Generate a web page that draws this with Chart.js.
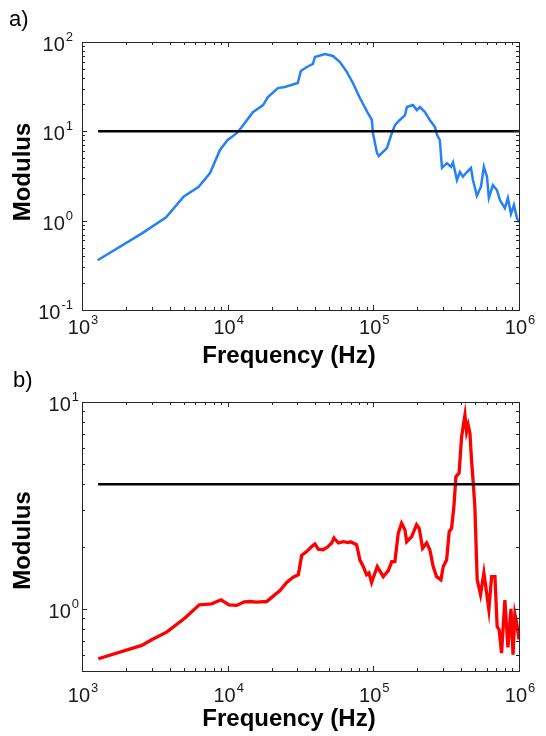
<!DOCTYPE html>
<html>
<head>
<meta charset="utf-8">
<script src="https://cdn.jsdelivr.net/npm/chart.js@4.4.1/dist/chart.umd.min.js"></script>
<style>
  body { margin: 0; background: #fff; }
  .panel { position: absolute; left: 0; }
</style>
</head>
<body>
<canvas id="chartA" class="panel" width="546" height="368" style="top:0"></canvas>
<canvas id="chartB" class="panel" width="546" height="368" style="top:368px"></canvas>
<script>
// panel a) - blue curve
const freqA = [1280, 2580, 3780, 5000, 6300, 7570, 8850, 10000, 11600, 12500, 14900, 17500, 18900,
  22100, 24700, 30300, 31800, 35000, 38500, 39700, 46600, 52800, 59000, 65900, 72400, 80900,
  91800, 97700, 99300, 106000, 109000, 124000, 134000, 141000, 152000, 165000, 170000, 187000,
  199000, 209000, 226000, 244000, 265000, 274000, 286000, 296000, 320000, 341000, 352000,
  375000, 393000, 412000, 439000, 468000, 483000, 514000, 548000, 574000, 603000, 621000,
  662000, 705000, 740000, 800000, 839000, 881000, 923000, 968000, 1000000];
const modA = [0.36, 0.72, 1.09, 1.87, 2.38, 3.41, 6.18, 8.0, 9.6, 11.2, 16.4, 19.7, 24.2,
  30.5, 31.3, 34.8, 47.3, 52.5, 56.8, 68, 73.5, 69.7, 59.7, 46.1, 34.8, 23.6,
  16.0, 13.4, 9.6, 5.7, 5.3, 6.5, 9.6, 11.8, 13.4, 15.2, 18.7, 19.7,
  17.3, 18.7, 16.4, 13.4, 11.2, 9.1, 8.0, 3.9, 4.4, 4.0, 4.5,
  2.85, 3.5, 3.1, 3.5, 3.9, 2.85, 1.9, 2.4, 4.0, 3.1, 1.8,
  2.5, 2.2, 1.7, 1.38, 1.79, 1.19, 1.5, 1.07, 0.96];

// panel b) - red curve
const freqB = [1294, 2570, 3006, 3811, 5093, 6383, 7762, 8995, 10210, 11530, 13000, 14220, 15810,
  18530, 20050, 22860, 25410, 28180, 30550, 32210, 34830, 37760, 39720, 41880, 45290, 48980,
  51760, 53700, 57540, 62090, 67300, 69820, 76740, 80910, 85310, 89950, 93330, 97270, 106400,
  117000, 126800, 133700, 140600, 148300, 156300, 164800, 169400, 183200, 198200, 206500,
  217800, 232300, 244300, 257600, 271600, 291100, 302000, 318400, 331900, 344400, 357300,
  369000, 388100, 403600, 425600, 436500, 447700, 460300, 472100, 485300, 497700, 516400,
  544500, 574100, 599800, 620900, 648600, 683900, 707900, 731100, 758600, 799800, 839500,
  881000, 909800, 937600, 968300, 1000000];
const modB = [0.573, 0.665, 0.708, 0.771, 0.902, 1.045, 1.057, 1.105, 1.045, 1.038, 1.081, 1.084, 1.077,
  1.084, 1.135, 1.225, 1.34, 1.42, 1.46, 1.81, 1.89, 2.0, 2.06, 1.94, 1.93, 2.0,
  2.08, 2.2, 2.08, 2.11, 2.09, 2.11, 2.04, 1.72, 1.6, 1.46, 1.49, 1.34, 1.6,
  1.43, 1.53, 1.69, 1.69, 2.32, 2.59, 2.41, 2.11, 2.23, 2.55, 2.45,
  1.96, 2.08, 1.93, 1.6, 1.43, 1.38, 1.6, 1.72, 2.36, 2.45, 3.12,
  4.36, 4.53, 6.8, 8.65, 7.19, 7.74, 7.06, 5.25, 4.05, 3.12, 1.38,
  1.17, 1.49, 1.19, 0.99, 1.43, 1.43, 0.82, 0.79, 0.61, 1.1, 0.65,
  1.0, 0.6, 0.94, 0.84, 0.71];

// horizontal reference lines
const refFreq = [1290, 1000000];
const refA = [10, 10];
const refB = [4, 4];

// tick labels (powers of ten)
const xTickExps = [3, 4, 5, 6];
const yTickExpsA = [-1, 0, 1, 2];
const yTickExpsB = [0, 1];

const toPts = (xs, ys) => xs.map((x, i) => ({ x, y: ys[i] }));

const axisColor = '#262626';
const tickFont = '20px "Liberation Sans", Arial, sans-serif';
const supFont = '13px "Liberation Sans", Arial, sans-serif';
const titleFont = 'bold 24px "Liberation Sans", Arial, sans-serif';

function minorTicks(lo, hi) {
  const out = [];
  for (let e = -2; e <= 6; e++) {
    for (let k = 1; k <= 9; k++) {
      const v = k * Math.pow(10, e);
      if (v >= lo * 0.999 && v <= hi * 1.001) out.push({ v, major: k === 1 });
    }
  }
  return out;
}

function powLabel(ctx, exp, x, y, align) {
  ctx.font = tickFont;
  const wb = ctx.measureText('10').width;
  ctx.font = supFont;
  const ws = ctx.measureText(String(exp)).width;
  const left = align === 'center' ? x - (wb + ws + 1) / 2 : x - (wb + ws + 1);
  ctx.textAlign = 'left';
  ctx.textBaseline = 'alphabetic';
  ctx.font = tickFont;
  ctx.fillText('10', left, y);
  ctx.font = supFont;
  ctx.fillText(String(exp), left + wb + 1, y - 10);
}

const framePlugin = {
  id: 'frame',
  afterDraw(chart, args, o) {
    const { ctx, chartArea: a, scales: { x, y } } = chart;
    ctx.save();
    ctx.strokeStyle = axisColor;
    ctx.lineWidth = 1;
    ctx.strokeRect(Math.round(a.left) + 0.5, Math.round(a.top) + 0.5,
      Math.round(a.right - a.left), Math.round(a.bottom - a.top));

    ctx.beginPath();
    minorTicks(x.min, x.max).forEach(t => {
      const px = Math.round(x.getPixelForValue(t.v)) + 0.5;
      const len = t.major ? 5 : 3;
      ctx.moveTo(px, a.bottom); ctx.lineTo(px, a.bottom - len);
      ctx.moveTo(px, a.top); ctx.lineTo(px, a.top + len);
    });
    minorTicks(y.min, y.max).forEach(t => {
      const py = Math.round(y.getPixelForValue(t.v)) + 0.5;
      const len = t.major ? 5 : 3;
      ctx.moveTo(a.left, py); ctx.lineTo(a.left + len, py);
      ctx.moveTo(a.right, py); ctx.lineTo(a.right - len, py);
    });
    ctx.stroke();

    ctx.fillStyle = '#1a1a1a';
    xTickExps.forEach(e => {
      powLabel(ctx, e, x.getPixelForValue(Math.pow(10, e)) + 1, a.bottom + o.xLabelDy, 'center');
    });
    o.yExps.forEach(e => {
      powLabel(ctx, e, a.left - o.yLabelGap, y.getPixelForValue(Math.pow(10, e)) + o.yLabelDy, 'right');
    });

    ctx.fillStyle = '#000';
    ctx.font = titleFont;
    ctx.textAlign = 'center';
    ctx.textBaseline = 'alphabetic';
    ctx.fillText('Frequency (Hz)', o.xTitleX, a.bottom + o.xTitleDy);
    ctx.save();
    ctx.translate(o.yTitleX, (a.top + a.bottom) / 2 + o.yTitleDy);
    ctx.rotate(-Math.PI / 2);
    ctx.fillText('Modulus', 0, 0);
    ctx.restore();

    ctx.font = '22px "Liberation Sans", Arial, sans-serif';
    ctx.textAlign = 'left';
    ctx.textBaseline = 'middle';
    ctx.fillText(o.panel, o.panelX, o.panelY);
    ctx.restore();
  }
};

function makeChart(id, pts, color, width, ref, yMin, yMax, pad, frame) {
  return new Chart(document.getElementById(id), {
    type: 'line',
    data: {
      datasets: [
        { data: toPts(refFreq, ref), borderColor: '#000', borderWidth: 2.5, order: 1 },
        { data: pts, borderColor: color, borderWidth: width, order: 2 }
      ]
    },
    options: {
      responsive: false,
      animation: false,
      devicePixelRatio: 1,
      layout: { padding: pad },
      elements: { point: { radius: 0 }, line: { tension: 0 } },
      scales: {
        x: { type: 'logarithmic', min: 1000, max: 1000000, display: false },
        y: { type: 'logarithmic', min: yMin, max: yMax, display: false }
      },
      plugins: { legend: { display: false }, tooltip: { enabled: false }, frame }
    },
    plugins: [framePlugin]
  });
}

makeChart('chartA', toPts(freqA, modA), '#2680f8', 2.5, refA, 0.1, 100,
  { left: 82, right: 27, top: 42, bottom: 58 },
  { yExps: yTickExpsA, xLabelDy: 24, yLabelGap: 9, yLabelDy: 9, xTitleX: 289, xTitleDy: 53,
    yTitleX: 30, yTitleDy: -4, panel: 'a)', panelX: 9, panelY: 20 });

makeChart('chartB', toPts(freqB, modB), '#ff0000', 3.3, refB, 0.5, 10,
  { left: 82, right: 27, top: 34, bottom: 65 },
  { yExps: yTickExpsB, xLabelDy: 31, yLabelGap: 3, yLabelDy: 9, xTitleX: 289, xTitleDy: 55,
    yTitleX: 30, yTitleDy: 4, panel: 'b)', panelX: 13, panelY: 13 });
</script>
</body>
</html>
